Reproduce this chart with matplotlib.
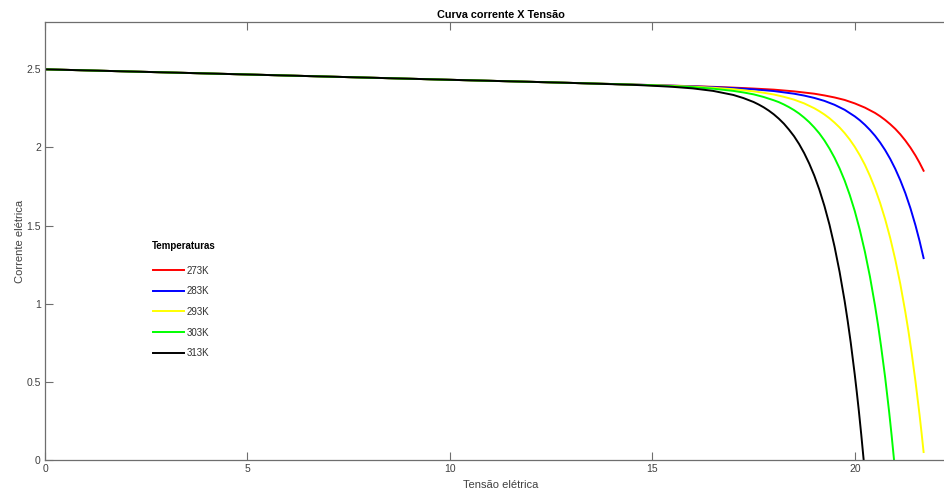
import matplotlib
matplotlib.use("Agg")
import matplotlib.pyplot as plt

plt.rcParams["font.family"] = ["Liberation Sans", "DejaVu Sans"]

# curvas I x V do painel para cada temperatura
temperaturas = ["273K", "283K", "293K", "303K", "313K"]
cores = ["#ff0000", "#0000ff", "#ffff00", "#00ff00", "#000000"]

v_273 = [0, 5, 10, 12, 14, 15, 16, 16.5, 17, 17.5, 18, 18.5, 19, 19.25, 19.5, 19.75,
         20, 20.25, 20.5, 20.625, 20.75, 20.875, 21, 21.125, 21.25, 21.375, 21.5,
         21.6, 21.7]
i_273 = [2.500, 2.467, 2.433, 2.420, 2.406, 2.399, 2.392, 2.388, 2.383, 2.377, 2.370,
         2.359, 2.344, 2.333, 2.320, 2.304, 2.282, 2.255, 2.221, 2.200, 2.176, 2.149,
         2.119, 2.084, 2.044, 1.999, 1.948, 1.902, 1.851]

v_283 = [0, 5, 10, 12, 14, 15, 16, 16.5, 17, 17.5, 18, 18.5, 18.75, 19, 19.25, 19.5,
         19.75, 20, 20.125, 20.25, 20.375, 20.5, 20.625, 20.75, 20.875, 21, 21.125,
         21.25, 21.375, 21.5, 21.6, 21.7]
i_283 = [2.500, 2.467, 2.433, 2.420, 2.406, 2.399, 2.391, 2.386, 2.380, 2.372, 2.361,
         2.344, 2.332, 2.317, 2.298, 2.273, 2.241, 2.199, 2.174, 2.145, 2.112, 2.075,
         2.032, 1.983, 1.927, 1.863, 1.790, 1.707, 1.611, 1.501, 1.402, 1.292]

v_293 = [0, 5, 10, 12, 14, 15, 15.5, 16, 16.5, 17, 17.5, 17.75, 18, 18.25, 18.5, 18.75,
         19, 19.125, 19.25, 19.375, 19.5, 19.625, 19.75, 19.875, 20, 20.125, 20.25,
         20.375, 20.5, 20.625, 20.75, 20.875, 21, 21.125, 21.25, 21.325, 21.4, 21.5,
         21.6, 21.65, 21.7]
i_293 = [2.500, 2.467, 2.433, 2.420, 2.406, 2.398, 2.394, 2.389, 2.382, 2.373, 2.359,
         2.350, 2.339, 2.324, 2.306, 2.282, 2.251, 2.232, 2.211, 2.187, 2.159, 2.128,
         2.092, 2.051, 2.004, 1.950, 1.889, 1.818, 1.738, 1.646, 1.541, 1.421, 1.283,
         1.126, 0.945, 0.825, 0.694, 0.502, 0.289, 0.173, 0.051]

v_303 = [0, 5, 10, 12, 14, 14.5, 15, 15.5, 16, 16.5, 17, 17.25, 17.5, 17.75, 18,
         18.125, 18.25, 18.375, 18.5, 18.625, 18.75, 18.875, 19, 19.125, 19.25, 19.375,
         19.5, 19.625, 19.75, 19.875, 20, 20.125, 20.25, 20.375, 20.5, 20.575, 20.65,
         20.75, 20.85, 20.91, 20.97, 21.05]
i_303 = [2.500, 2.467, 2.433, 2.420, 2.406, 2.402, 2.398, 2.392, 2.386, 2.376, 2.362,
         2.352, 2.340, 2.323, 2.302, 2.290, 2.275, 2.258, 2.239, 2.217, 2.191, 2.162,
         2.128, 2.090, 2.045, 1.993, 1.934, 1.866, 1.788, 1.697, 1.593, 1.472, 1.333,
         1.173, 0.988, 0.864, 0.727, 0.529, 0.305, 0.158, 0.0, -0.228]

v_313 = [0, 5, 10, 12, 13, 14, 14.5, 15, 15.5, 16, 16.5, 17, 17.25, 17.5, 17.625,
         17.75, 17.875, 18, 18.125, 18.25, 18.375, 18.5, 18.625, 18.75, 18.875, 19,
         19.125, 19.25, 19.375, 19.5, 19.625, 19.75, 19.825, 19.9, 20.0, 20.05, 20.1,
         20.16, 20.22, 20.3]
i_313 = [2.500, 2.467, 2.433, 2.420, 2.413, 2.405, 2.401, 2.395, 2.388, 2.378, 2.362,
         2.336, 2.316, 2.291, 2.275, 2.257, 2.236, 2.212, 2.184, 2.152, 2.114, 2.072,
         2.022, 1.964, 1.897, 1.820, 1.730, 1.626, 1.506, 1.366, 1.204, 1.017, 0.890,
         0.752, 0.546, 0.434, 0.316, 0.163, 0.0, -0.237]

tensoes = [v_273, v_283, v_293, v_303, v_313]
correntes = [i_273, i_283, i_293, i_303, i_313]

xticks = [0, 5, 10, 15, 20]
yticks = [0, 0.5, 1, 1.5, 2, 2.5]

fig = plt.figure(figsize=(9.44, 4.90), dpi=100)
ax = fig.add_axes([0.0477, 0.0612, 0.965, 0.893])

for v, i, cor, rot in zip(tensoes, correntes, cores, temperaturas):
    ax.plot(v, i, color=cor, linewidth=1.4, label=rot)

ax.set_xlim(0, 22.5)
ax.set_ylim(0, 2.8)
ax.set_xticks(xticks)
ax.set_xticklabels([str(t) for t in xticks])
ax.set_yticks(yticks)
ax.set_yticklabels(["0", "0.5", "1", "1.5", "2", "2.5"])

cinza = "#6e6e6e"
for s in ax.spines.values():
    s.set_color(cinza)
    s.set_linewidth(0.9)
ax.spines["right"].set_visible(False)
ax.tick_params(direction="in", length=6, width=0.8, color=cinza,
               labelcolor="#404040", labelsize=7.5, top=True, pad=3)

ax.set_title("Curva corrente X Tensão", fontsize=7.8, fontweight="bold", pad=3)
ax.set_xlabel("Tensão elétrica", fontsize=8, color="#404040", labelpad=4)
ax.set_ylabel("Corrente elétrica", fontsize=8, color="#404040", labelpad=1)

# legenda sem caixa, com título à parte
fig.text(152 / 944, 1 - 245.5 / 490, "Temperaturas", fontsize=7,
         fontweight="bold", ha="left", va="center")
leg = ax.legend(loc="upper left", bbox_to_anchor=(0.1625, 1 - 265.5 / 490),
                bbox_transform=fig.transFigure, frameon=False, fontsize=7,
                handlelength=3.1, handletextpad=0.3, labelspacing=1.10,
                borderpad=0, borderaxespad=0)
for t in leg.get_texts():
    t.set_color("#303030")

fig.savefig("out.png", dpi=100)
